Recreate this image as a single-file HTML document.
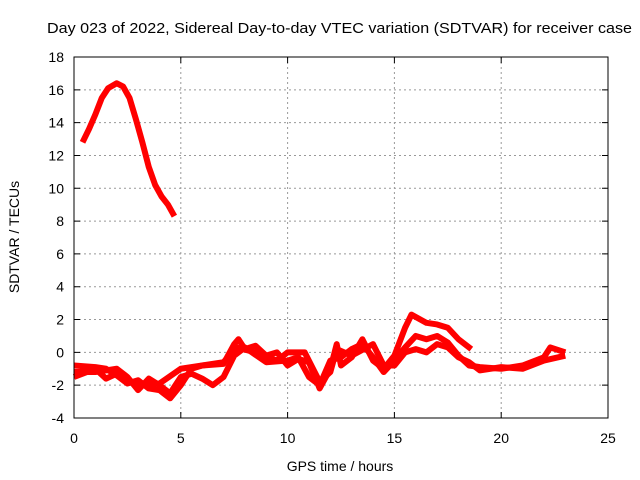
<!DOCTYPE html>
<html><head><meta charset="utf-8"><style>
body{margin:0;background:#fff}
svg{display:block;font-family:"Liberation Sans",sans-serif}
</style></head><body>
<svg id="c" width="640" height="480">
<text x="47" y="33" font-size="15" textLength="585" lengthAdjust="spacingAndGlyphs">Day 023 of 2022, Sidereal Day-to-day VTEC variation (SDTVAR) for receiver case</text>
<text x="340" y="471" text-anchor="middle" font-size="14">GPS time / hours</text>
<text transform="translate(19,237) rotate(-90)" text-anchor="middle" font-size="14">SDTVAR / TECUs</text>
<g id="grid"></g><g id="series"></g>
<rect x="74" y="57" width="534" height="361" fill="none" stroke="#000"/>
</svg>
<script>
const xTicks=[0,5,10,15,20,25];
const yTicks=[-4,-2,0,2,4,6,8,10,12,14,16,18];
const seriesA=[[0.4,12.8],[0.7,13.6],[1.0,14.5],[1.3,15.5],[1.6,16.1],[2.0,16.4],[2.3,16.2],[2.6,15.5],[2.9,14.2],[3.2,12.8],[3.5,11.3],[3.8,10.2],[4.1,9.5],[4.4,9.0],[4.7,8.3]];
const seriesB=[[0,-0.8],[1,-0.9],[1.5,-1.0],[2,-1.4],[2.5,-1.9],[3,-1.7],[3.5,-2.2],[4,-2.3],[4.5,-2.8],[5,-2.0],[5.5,-1.0],[6,-0.8],[7,-0.7],[7.5,0.5],[7.7,0.8],[8,0.2],[8.5,0.4],[9,-0.2],[9.5,0],[10,-0.8],[10.5,-0.4],[11,-0.6],[11.5,-2.2],[12,-1],[12.3,0.5],[12.5,-0.8],[13,-0.3],[13.5,0.8],[14,-0.5],[14.5,-1],[15,-0.2],[15.5,1.5],[15.8,2.3],[16.5,1.8],[17,1.7],[17.5,1.5],[18,0.8],[18.6,0.2]];
const seriesC=[[0,-1.2],[1,-1.2],[2,-1.0],[2.5,-1.5],[3,-2.3],[3.5,-1.6],[4,-2.0],[4.5,-2.5],[5,-1.5],[5.5,-1.3],[6,-1.6],[6.5,-2.0],[7,-1.5],[7.5,-0.2],[8,0.3],[9,-0.6],[10,-0.5],[10.5,-0.3],[11,-1.5],[11.5,-2.0],[12,-0.5],[12.5,-0.3],[13,0.2],[13.5,0.5],[14,-0.3],[14.5,-1.2],[15,-0.5],[15.5,0.3],[16,1.0],[16.5,0.8],[17,1.0],[17.5,0.6],[18,-0.2],[18.5,-0.8],[19,-0.9],[20,-1],[21,-0.8],[22,-0.3],[22.3,0.3],[23,0]];
const seriesD=[[0,-1.5],[1,-1.0],[1.5,-1.6],[2,-1.3],[3,-2.0],[4,-1.9],[5,-1.0],[6,-0.8],[7,-0.6],[7.6,0.3],[8.5,0],[9.5,-0.5],[10,0],[10.8,0],[11.5,-1.8],[12,-1.2],[12.3,0.2],[13,-0.2],[14,0.5],[14.5,-0.8],[15,-0.8],[15.5,0],[16,0.2],[16.5,0],[17,0.5],[17.5,0.3],[18,-0.3],[18.5,-0.6],[19,-1.1],[20,-0.9],[21,-1.0],[22,-0.5],[23,-0.2]];
const NS="http://www.w3.org/2000/svg";
const X=v=>74+v*(534/25), Y=v=>57+(18-v)*(361/22);
const g=document.getElementById('grid'), s=document.getElementById('series');
function mk(t,a,p){const e=document.createElementNS(NS,t);for(const k in a)e.setAttribute(k,a[k]);p.appendChild(e);return e;}
xTicks.forEach(t=>{
 if(t>0&&t<25){const l=mk('line',{x1:X(t),x2:X(t),y1:57,y2:418,stroke:'#999','stroke-dasharray':'2,3'},g);
 
 }
 const tk=mk('path',{d:`M${X(t)},418v-6M${X(t)},57v6`,stroke:'#000'},g);
 
 
 const tx=mk('text',{x:X(t),y:443,'text-anchor':'middle','font-size':'14'},g);tx.textContent=t;
 
 
});
yTicks.forEach(t=>{
 if(t>-4&&t<18){const l=mk('line',{x1:74,x2:608,y1:Y(t),y2:Y(t),stroke:'#999','stroke-dasharray':'2,3'},g);
 
 }
 const tk=mk('path',{d:`M74,${Y(t)}h6M608,${Y(t)}h-6`,stroke:'#000'},g);
 
 
 const tx=mk('text',{x:64,y:Y(t)+5,'text-anchor':'end','font-size':'14'},g);tx.textContent=t;
 
 
});
[seriesA,seriesB,seriesC,seriesD].forEach((d,i)=>{
 const p=mk('polyline',{points:d.map(q=>X(q[0])+','+Y(q[1])).join(' '),fill:'none',stroke:'#f00','stroke-width':'6','stroke-linejoin':'round'},s);
 
 
});
</script>
</body></html>
